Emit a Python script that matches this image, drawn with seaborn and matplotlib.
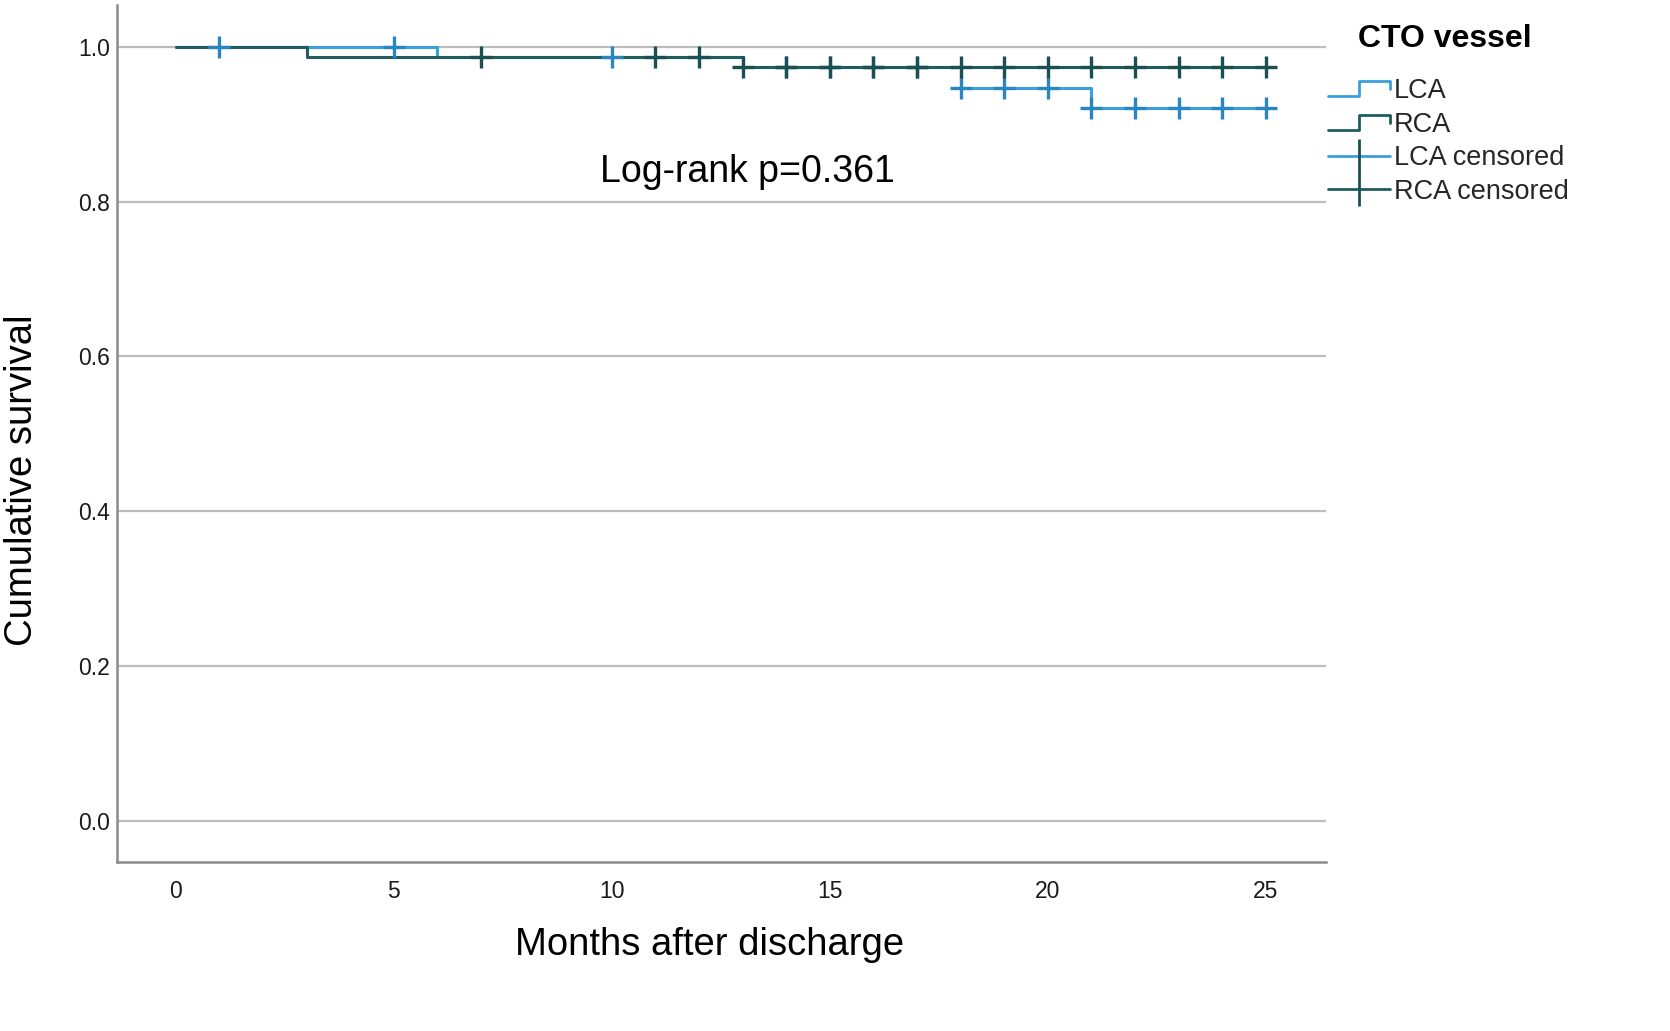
import matplotlib
matplotlib.use("Agg")
import matplotlib.pyplot as plt
from matplotlib.lines import Line2D
from matplotlib.legend_handler import HandlerBase
import seaborn as sns
import pandas as pd

# ---- data ----
lca_times = [0, 6, 13, 18, 21, 25]
lca_surv = [1.0, 0.987, 0.974, 0.947, 0.921, 0.921]
rca_times = [0, 3, 13, 25]
rca_surv = [1.0, 0.987, 0.974, 0.974]

lca_cens_times = [1, 5, 10, 14, 15, 16, 17, 18, 19, 20, 21, 22, 23, 24, 25]
lca_cens_surv = [1.0, 1.0, 0.987, 0.974, 0.974, 0.974, 0.974, 0.947, 0.947, 0.947,
                 0.921, 0.921, 0.921, 0.921, 0.921]
rca_cens_times = [7, 11, 12, 13, 14, 15, 16, 17, 18, 19, 20, 21, 22, 23, 24, 25]
rca_cens_surv = [0.987, 0.987, 0.987, 0.974, 0.974, 0.974, 0.974, 0.974, 0.974, 0.974,
                 0.974, 0.974, 0.974, 0.974, 0.974, 0.974]

x_ticks = [0, 5, 10, 15, 20, 25]
y_ticks = [0.0, 0.2, 0.4, 0.6, 0.8, 1.0]
y_tick_labels = ["0.0", "0.2", "0.4", "0.6", "0.8", "1.0"]

LCA_COLOR = "#3a9fdc"
RCA_COLOR = "#1f5d60"
LCA_MARK = "#2a86c0"
RCA_MARK = "#1b4f52"

sns.set_theme(style="white")
plt.rcParams['font.family'] = ['Liberation Sans', 'DejaVu Sans']

fig = plt.figure(figsize=(16.7, 10.31), dpi=100)
ax = fig.add_axes([117/1670, 1 - 862/1031, (1326-117)/1670, (862-5)/1031])

lca_df = pd.DataFrame({"t": lca_times, "s": lca_surv})
rca_df = pd.DataFrame({"t": rca_times, "s": rca_surv})
sns.lineplot(data=lca_df, x="t", y="s", ax=ax, color=LCA_COLOR, lw=2.2,
             drawstyle="steps-post", estimator=None, sort=False, zorder=3)
sns.lineplot(data=rca_df, x="t", y="s", ax=ax, color=RCA_COLOR, lw=2.2,
             drawstyle="steps-post", estimator=None, sort=False, zorder=3)

lcc = pd.DataFrame({"t": lca_cens_times, "s": lca_cens_surv})
rcc = pd.DataFrame({"t": rca_cens_times, "s": rca_cens_surv})
sns.scatterplot(data=lcc, x="t", y="s", ax=ax, marker="+", s=260, color=LCA_MARK,
                linewidth=2.4, zorder=4)
sns.scatterplot(data=rcc, x="t", y="s", ax=ax, marker="+", s=260, color=RCA_MARK,
                linewidth=2.4, zorder=4)

ax.set_xlim(-1.35, 26.38)
ax.set_ylim(-0.053, 1.054)
ax.set_xticks(x_ticks)
ax.set_yticks(y_ticks)
ax.set_yticklabels(y_tick_labels)
ax.set_xlabel("")
ax.set_ylabel("")
for lab in ax.get_xticklabels() + ax.get_yticklabels():
    lab.set_fontsize(16.5)
    lab.set_color("#1a1a1a")
ax.tick_params(axis='x', length=0, pad=13)
ax.tick_params(axis='y', length=0, pad=5)
ax.yaxis.grid(True, color="#bdbdbd", lw=1.6)
ax.xaxis.grid(False)
for side in ["top", "right"]:
    ax.spines[side].set_visible(False)
for side in ["left", "bottom"]:
    ax.spines[side].set_color("#8a8a8a")
    ax.spines[side].set_linewidth(1.8)

ax.text(9.72, 0.838, "Log-rank p=0.361", fontsize=27, ha="left", va="center",
        color="black")

fig.text(710/1670, 1 - 945/1031, "Months after discharge", fontsize=27.5,
         ha="center", va="center", color="black")
fig.text(22/1670, 1 - 480/1031, "Cumulative survival", fontsize=27.5,
         ha="center", va="center", rotation=90, color="black")

fig.text(1358/1670, 1 - 39/1031, "CTO vessel", fontsize=23, fontweight="bold",
         ha="left", va="center", color="black")


class StepHandler(HandlerBase):
    def create_artists(self, legend, orig_handle, xdescent, ydescent, width, height,
                       fontsize, trans):
        x0, x1 = -xdescent, -xdescent + width
        xm = x0 + 0.5 * width
        yl, yh = -ydescent + 0.1 * height, -ydescent + 0.9 * height
        ln = Line2D([x0, xm, xm, x1, x1], [yl, yl, yh, yh, 0.45 * height - ydescent],
                    color=orig_handle.get_color(), lw=2.0)
        ln.set_transform(trans)
        return [ln]


h_lca = Line2D([], [], color=LCA_COLOR)
h_rca = Line2D([], [], color=RCA_COLOR)
h_lcc = Line2D([], [], color=LCA_COLOR, lw=2.0, marker="|", markersize=24,
               markeredgecolor=RCA_MARK, markeredgewidth=2)
h_rcc = Line2D([], [], color=RCA_COLOR, lw=2.0, marker="|", markersize=24,
               markeredgecolor=RCA_MARK, markeredgewidth=2)

leg = fig.legend([h_lca, h_rca, h_lcc, h_rcc],
                 ["LCA", "RCA", "LCA censored", "RCA censored"],
                 handler_map={h_lca: StepHandler(), h_rca: StepHandler()},
                 loc="upper left", bbox_to_anchor=(1328/1670, 1 - 78/1031),
                 frameon=False, fontsize=19.5,
                 handlelength=2.3, handletextpad=0.12, labelspacing=0.28,
                 borderaxespad=0, borderpad=0.0)

fig.savefig("out.png", dpi=100)
